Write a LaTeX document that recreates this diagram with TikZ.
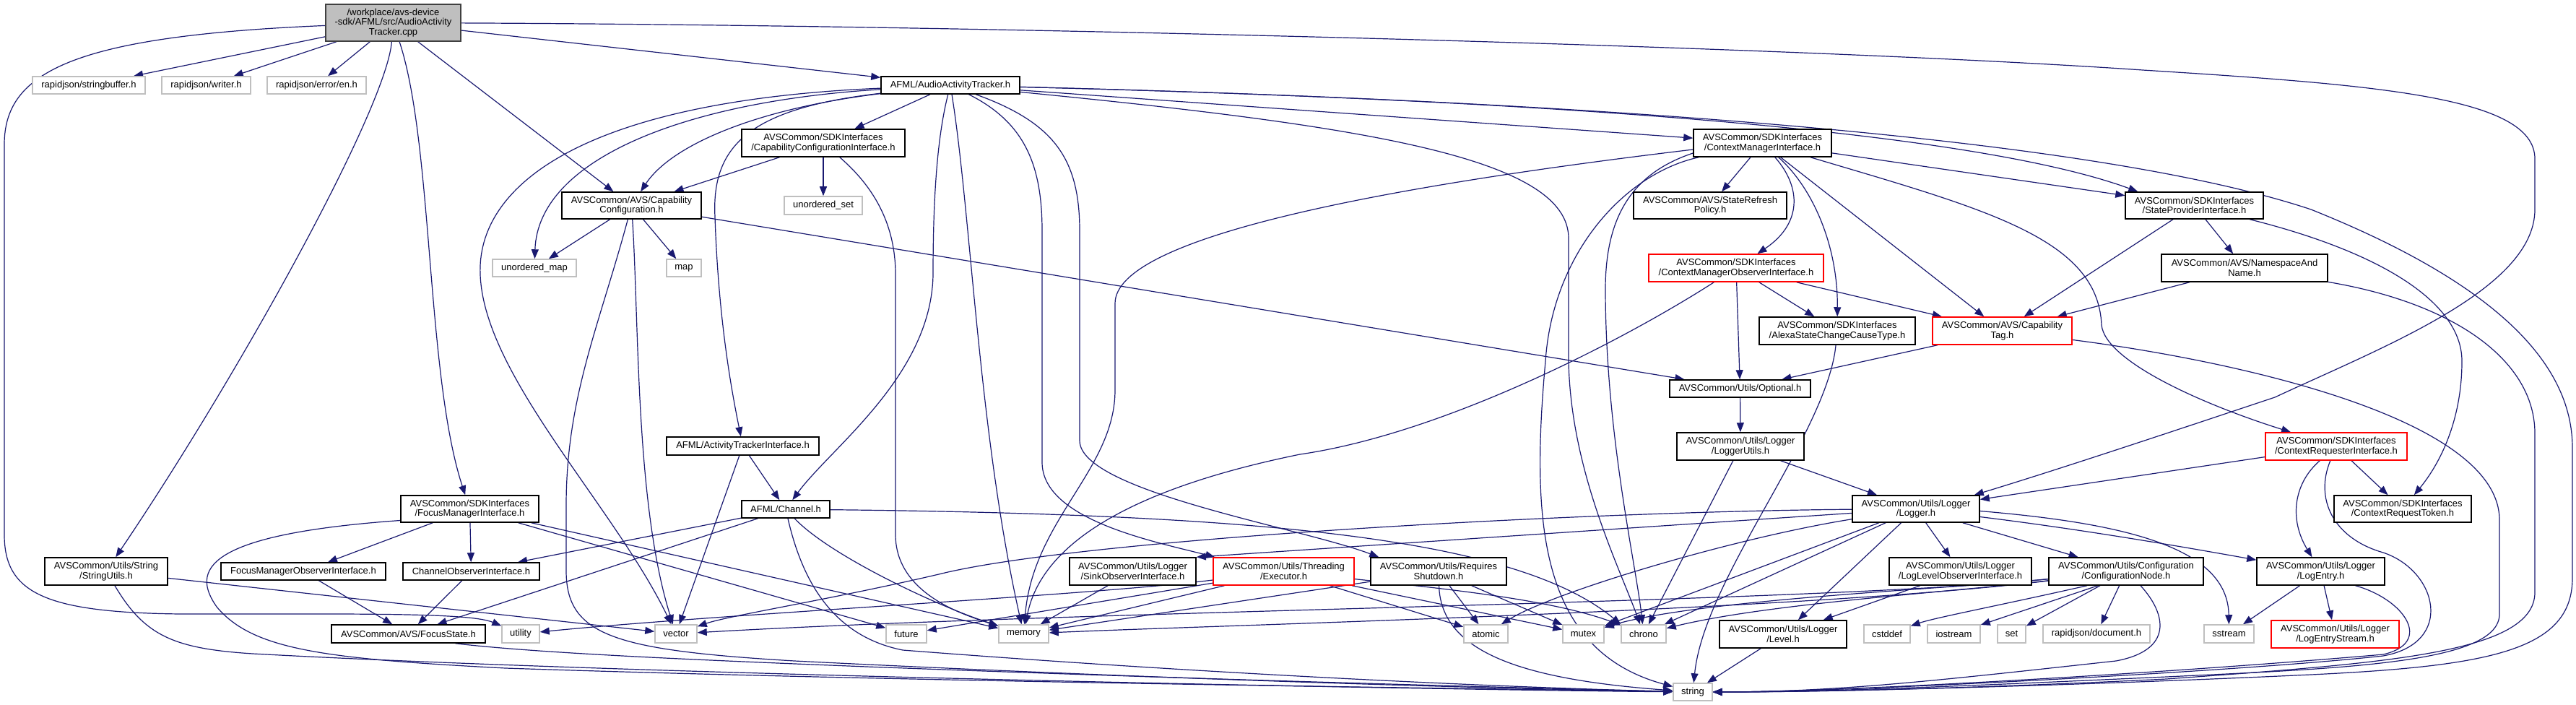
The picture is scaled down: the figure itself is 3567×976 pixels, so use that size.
\documentclass[tikz,border=0pt]{standalone}
\usepackage{fontspec}
\setmainfont{Liberation Sans}
\usetikzlibrary{arrows.meta}
\definecolor{edgeblue}{HTML}{191970}
\definecolor{sysgray}{HTML}{BFBFBF}
\definecolor{rootgray}{HTML}{BFBFBF}
\definecolor{rootborder}{HTML}{404040}
\definecolor{truncred}{HTML}{FF0000}
\pgfdeclarelayer{bg}
\pgfsetlayers{bg,main}
\newcommand{\mkn}[6]{\node[#1, minimum width=#4pt, minimum height=#5pt] (#2) at (#3) {#6};}
\tikzset{
  box/.style={draw=black, line width=1.5pt, rectangle, inner sep=0pt, align=center, fill=white,
    font=\fontsize{13pt}{13.6pt}\selectfont},
  sys/.style={box, draw=sysgray},
  trunc/.style={box, draw=truncred},
  rootbox/.style={box, fill=rootgray, draw=rootborder},
  e/.style={draw=edgeblue, line width=1.2pt, -{Triangle[length=13pt,width=10pt]}},
}
\begin{document}
\begin{tikzpicture}[x=1pt,y=-1pt]
\useasboundingbox (0,0) rectangle (3567,976);
% ---------- nodes
\mkn{rootbox}{root}{544.5,31.5}{187}{51}{/workplace/avs-device\\-sdk/AFML/src/AudioActivity\\Tracker.cpp}
\mkn{sys}{sbuf}{123,118}{156}{24}{rapidjson/stringbuffer.h}
\mkn{sys}{writer}{285.5,118}{123}{24}{rapidjson/writer.h}
\mkn{sys}{en}{438.5,118}{137}{24}{rapidjson/error/en.h}
\mkn{box}{AAT}{1316,118}{192}{24}{AFML/AudioActivityTracker.h}
\mkn{box}{CCI}{1140,198}{226}{38}{AVSCommon/SDKInterfaces\\/CapabilityConfigurationInterface.h}
\mkn{box}{CMI}{2440.5,198}{191}{38}{AVSCommon/SDKInterfaces\\/ContextManagerInterface.h}
\mkn{box}{CC}{874.5,284.5}{193}{37}{AVSCommon/AVS/Capability\\Configuration.h}
\mkn{sys}{uset}{1140,284.5}{108}{25}{unordered\_set}
\mkn{box}{SRP}{2368,284.5}{212}{37}{AVSCommon/AVS/StateRefresh\\Policy.h}
\mkn{box}{SPI}{3038.5,284.5}{191}{37}{AVSCommon/SDKInterfaces\\/StateProviderInterface.h}
\mkn{sys}{umap}{740,371}{116}{24}{unordered\_map}
\mkn{sys}{map}{947,371}{48}{24}{map}
\mkn{trunc}{CMOI}{2404,371}{242}{38}{AVSCommon/SDKInterfaces\\/ContextManagerObserverInterface.h}
\mkn{box}{NSN}{3108,371}{230}{38}{AVSCommon/AVS/NamespaceAnd\\Name.h}
\mkn{box}{ASCC}{2544,458}{216}{38}{AVSCommon/SDKInterfaces\\/AlexaStateChangeCauseType.h}
\mkn{trunc}{CapTag}{2772.5,458}{193}{38}{AVSCommon/AVS/Capability\\Tag.h}
\mkn{box}{Optional}{2409.5,538}{195}{24}{AVSCommon/Utils/Optional.h}
\mkn{box}{LU}{2410,618}{176}{38}{AVSCommon/Utils/Logger\\/LoggerUtils.h}
\mkn{box}{ATI}{1028.5,617.5}{211}{25}{AFML/ActivityTrackerInterface.h}
\mkn{trunc}{CRI}{3235,618}{196}{38}{AVSCommon/SDKInterfaces\\/ContextRequesterInterface.h}
\mkn{box}{FMI}{650.5,704.5}{191}{37}{AVSCommon/SDKInterfaces\\/FocusManagerInterface.h}
\mkn{box}{Channel}{1088,705}{122}{24}{AFML/Channel.h}
\mkn{box}{Logger}{2653,704.5}{176}{37}{AVSCommon/Utils/Logger\\/Logger.h}
\mkn{box}{CRT}{3327,704.5}{190}{37}{AVSCommon/SDKInterfaces\\/ContextRequestToken.h}
\mkn{box}{StringUtils}{147,791}{170}{38}{AVSCommon/Utils/String\\/StringUtils.h}
\mkn{box}{FMOI}{420,791}{228}{24}{FocusManagerObserverInterface.h}
\mkn{box}{COI}{652.5,791}{189}{24}{ChannelObserverInterface.h}
\mkn{box}{Sink}{1568.5,791}{175}{38}{AVSCommon/Utils/Logger\\/SinkObserverInterface.h}
\mkn{trunc}{Executor}{1777.5,791}{195}{38}{AVSCommon/Utils/Threading\\/Executor.h}
\mkn{box}{ReqShut}{1992,791}{188}{38}{AVSCommon/Utils/Requires\\Shutdown.h}
\mkn{box}{LLOI}{2714.5,791}{197}{38}{AVSCommon/Utils/Logger\\/LogLevelObserverInterface.h}
\mkn{box}{CN}{2944,791}{214}{38}{AVSCommon/Utils/Configuration\\/ConfigurationNode.h}
\mkn{box}{LogEntry}{3213.5,791}{177}{38}{AVSCommon/Utils/Logger\\/LogEntry.h}
\mkn{box}{FocusState}{565.5,877.5}{213}{25}{AVSCommon/AVS/FocusState.h}
\mkn{sys}{utility}{721,877.5}{52}{25}{utility}
\mkn{sys}{vector}{936,877.5}{58}{25}{vector}
\mkn{sys}{future}{1255,877.5}{56}{25}{future}
\mkn{sys}{memory}{1417.5,877.5}{69}{25}{memory}
\mkn{sys}{atomic}{2057.5,877.5}{61}{25}{atomic}
\mkn{sys}{mutex}{2192.5,877.5}{57}{25}{mutex}
\mkn{sys}{chrono}{2276,877.5}{62}{25}{chrono}
\mkn{box}{Level}{2469,878}{176}{38}{AVSCommon/Utils/Logger\\/Level.h}
\mkn{sys}{cstddef}{2613,877.5}{64}{25}{cstddef}
\mkn{sys}{iostream}{2705.5,877.5}{73}{25}{iostream}
\mkn{sys}{set}{2785.5,877.5}{39}{25}{set}
\mkn{sys}{document}{2903,877.5}{148}{25}{rapidjson/document.h}
\mkn{sys}{sstream}{3086.5,877.5}{69}{25}{sstream}
\mkn{trunc}{LogEntryStream}{3233.5,878}{177}{38}{AVSCommon/Utils/Logger\\/LogEntryStream.h}
\mkn{sys}{string}{2344,958}{54}{24}{string}
% ---------- edges
\begin{pgfonlayer}{bg}
% root
\draw[e] (root) .. controls (100,50) and (6,100) .. (6,200) -- (6,740) .. controls (6,820) and (60,848) .. (250,850) .. controls (500,850) and (650,848) .. (utility);
\draw[e] (root) -- (sbuf);
\draw[e] (root) -- (writer);
\draw[e] (root) -- (en);
\draw[e] (root) .. controls (535,150) and (330,520) .. (StringUtils);
\draw[e] (root) .. controls (600,200) and (590,520) .. (FMI);
\draw[e] (root) -- (CC);
\draw[e] (root) -- (AAT);
\draw[e] (root) .. controls (1400,35) and (2500,65) .. (2967,97) .. controls (3300,118) and (3510,135) .. (3510,220) -- (3510,290) .. controls (3510,400) and (3300,480) .. (3150,550) .. controls (3000,600) and (2850,650) .. ([xshift=-8pt]Logger.north east);
% AudioActivityTracker.h
\draw[e] (AAT) -- (CCI);
\draw[e] (AAT) .. controls (950,140) and (745,220) .. (umap);
\draw[e] (AAT) .. controls (1050,150) and (930,200) .. (CC);
\draw[e] (AAT) .. controls (800,140) and (660,260) .. (665,380) .. controls (670,520) and (850,700) .. (vector);
\draw[e] (AAT) .. controls (1040,150) and (985,200) .. (990,300) .. controls (995,450) and (1015,550) .. (ATI);
\draw[e] (AAT) .. controls (1295,200) and (1292,300) .. (1292,380) .. controls (1290,520) and (1150,620) .. (Channel);
\draw[e] (AAT) .. controls (1345,300) and (1355,600) .. (memory);
\draw[e] (AAT) .. controls (1420,170) and (1443,230) .. (1443,320) -- (1443,640) .. controls (1443,720) and (1600,750) .. ([xshift=3pt]Executor.north west);
\draw[e] (AAT) .. controls (1460,170) and (1495,220) .. (1495,320) -- (1495,610) .. controls (1495,680) and (1800,730) .. ([xshift=12pt]ReqShut.north west);
\draw[e] (AAT) -- (CMI);
\draw[e] (AAT) .. controls (1900,175) and (2172,220) .. (2172,330) -- (2172,500) .. controls (2175,650) and (2240,780) .. (chrono);
\draw[e] (AAT) .. controls (2000,135) and (2700,170) .. ([xshift=18pt]SPI.north west);
\draw[e] (AAT) .. controls (2200,140) and (2900,190) .. (3200,290) .. controls (3450,390) and (3562,500) .. (3562,620) -- (3562,800) .. controls (3562,900) and (3450,922) .. (3200,934) .. controls (2900,948) and (2550,958) .. (string);
% CapabilityConfigurationInterface
\draw[e] (CCI) -- (CC);
\draw[e] (CCI) -- (uset);
\draw[e] (CCI) .. controls (1200,250) and (1240,300) .. (1240,380) -- (1240,740) .. controls (1240,820) and (1330,850) .. (memory);
% CapabilityConfiguration
\draw[e] (CC) -- (umap);
\draw[e] (CC) -- (map);
\draw[e] (CC) .. controls (885,450) and (880,700) .. (vector);
\draw[e] (CC) .. controls (830,450) and (784,550) .. (784,700) -- (784,790) .. controls (784,880) and (850,900) .. (1100,915) .. controls (1600,940) and (2050,953) .. (string);
\draw[e] (CC) -- (Optional);
% ContextManagerInterface
\draw[e] (CMI) -- (SRP);
\draw[e] (CMI) .. controls (2495,260) and (2495,310) .. (CMOI);
\draw[e] (CMI) .. controls (2510,260) and (2545,340) .. (ASCC);
\draw[e] (CMI) -- (CapTag);
\draw[e] (CMI) -- (SPI);
\draw[e] (CMI) .. controls (2750,290) and (2905,330) .. (2910,450) .. controls (2915,500) and (3050,560) .. (CRI);
\draw[e] ([yshift=-9pt]CMI.west) .. controls (1900,260) and (1544,330) .. (1544,420) -- (1544,540) .. controls (1544,650) and (1430,720) .. (memory);
\draw[e] ([xshift=8pt]CMI.south west) .. controls (2250,240) and (2150,350) .. (2140,500) .. controls (2120,720) and (2130,900) .. (string);
\draw[e] ([yshift=-14pt]CMI.west) .. controls (2260,240) and (2223,300) .. (2223,400) .. controls (2223,600) and (2265,780) .. (chrono);
% ContextManagerObserverInterface
\draw[e] (CMOI) -- (ASCC);
\draw[e] (CMOI) -- (CapTag);
\draw[e] (CMOI) -- (Optional);
\draw[e] (CMOI) .. controls (2250,470) and (2000,600) .. (1800,629) .. controls (1550,680) and (1440,760) .. (memory);
% AlexaStateChangeCauseType
\draw[e] (ASCC) .. controls (2530,600) and (2360,800) .. (string);
% CapabilityTag
\draw[e] (CapTag) -- (Optional);
\draw[e] (CapTag) .. controls (3100,500) and (3461,580) .. (3461,720) -- (3461,850) .. controls (3461,918) and (3250,925) .. (3000,937) .. controls (2800,946) and (2550,958) .. (string);
% StateProviderInterface
\draw[e] (SPI) -- (CapTag);
\draw[e] (SPI) -- (NSN);
\draw[e] (SPI) .. controls (3300,350) and (3409,420) .. (3409,500) .. controls (3409,580) and (3380,640) .. (CRT);
% NamespaceAndName
\draw[e] (NSN) -- (CapTag);
\draw[e] (NSN) .. controls (3400,420) and (3510,500) .. (3510,600) -- (3510,820) .. controls (3510,905) and (3300,918) .. (3000,940) .. controls (2800,950) and (2550,958) .. (string);
% Optional, LoggerUtils
\draw[e] (Optional) -- (LU);
\draw[e] (LU) -- (Logger);
\draw[e] (LU) -- (chrono);
% ActivityTrackerInterface
\draw[e] (ATI) -- (Channel);
\draw[e] (ATI) -- (vector);
% ContextRequesterInterface
\draw[e] (CRI) -- (Logger);
\draw[e] (CRI) -- (CRT);
\draw[e] (CRI) .. controls (3175,670) and (3170,720) .. (LogEntry);
\draw[e] (CRI) .. controls (3205,690) and (3230,745) .. (3300,765) .. controls (3375,790) and (3400,890) .. (3300,908) .. controls (3100,930) and (2550,958) .. (string);
% Logger
\draw[e] (Logger) -- (LLOI);
\draw[e] (Logger) -- (CN);
\draw[e] (Logger) -- (Level);
\draw[e] ([yshift=-11pt]Logger.east) .. controls (2900,735) and (3050,762) .. (LogEntry);
\draw[e] ([yshift=-3pt]Logger.east) .. controls (2950,725) and (3085,760) .. (sstream);
\draw[e] (Logger) -- (Sink.north east);
\draw[e] (Logger) .. controls (2200,708) and (1500,745) .. (1300,795) .. controls (1150,830) and (1010,852) .. (vector);
\draw[e] (Logger) .. controls (2400,745) and (2150,820) .. (atomic);
\draw[e] (Logger) -- (mutex);
\draw[e] (Logger) -- (chrono);
% LogLevelObserverInterface, Level
\draw[e] (LLOI) -- (Level);
\draw[e] (Level) -- (string);
% ConfigurationNode
\draw[e] ([xshift=-54pt]CN.south) .. controls (2760,840) and (2680,855) .. (cstddef);
\draw[e] ([xshift=-39pt]CN.south) -- (iostream);
\draw[e] ([xshift=-36pt]CN.south) -- (set);
\draw[e] (CN) -- (document);
\draw[e] ([xshift=20pt]CN.south) .. controls (3000,850) and (3010,900) .. (2930,915) .. controls (2700,940) and (2550,958) .. (string);
\draw[e] (CN) .. controls (2700,820) and (2450,835) .. (chrono);
\draw[e] (CN) .. controls (2700,815) and (2350,830) .. (mutex);
\draw[e] (CN) .. controls (2500,835) and (1500,845) .. (vector);
\draw[e] (CN) .. controls (2500,845) and (1700,865) .. (memory);
% Executor
\draw[e] (Executor) .. controls (1500,825) and (1000,850) .. (utility);
\draw[e] (Executor) -- (future);
\draw[e] (Executor) -- (memory);
\draw[e] (Executor) -- (atomic);
\draw[e] (Executor) -- (mutex);
\draw[e] (Executor) .. controls (2000,815) and (2150,830) .. (chrono);
% RequiresShutdown
\draw[e] (ReqShut) -- (atomic);
\draw[e] (ReqShut) -- (mutex);
\draw[e] (ReqShut) -- (memory);
\draw[e] (ReqShut) .. controls (1995,900) and (2100,940) .. (string);
% SinkObserverInterface
\draw[e] (Sink) -- (memory);
% Channel
\draw[e] (Channel) -- (COI);
\draw[e] (Channel) -- (FocusState);
\draw[e] (Channel) .. controls (1750,712) and (2100,745) .. (chrono.north west);
\draw[e] (Channel) .. controls (1150,770) and (1300,840) .. (memory);
\draw[e] (Channel) .. controls (1110,800) and (1150,880) .. (1250,900) .. controls (1700,935) and (2100,952) .. (string);
% FocusManagerInterface
\draw[e] (FMI) -- (FMOI);
\draw[e] (FMI) -- (COI);
\draw[e] (FMI) -- (future);
\draw[e] (FMI) -- (memory);
\draw[e] ([yshift=-16pt]FMI.west) .. controls (280,740) and (265,790) .. (300,840) .. controls (350,900) and (450,912) .. (700,925) .. controls (1300,945) and (2050,953) .. (string);
% FocusManagerObserverInterface, ChannelObserverInterface, FocusState
\draw[e] (FMOI) -- (FocusState);
\draw[e] (COI) -- (FocusState);
\draw[e] ([xshift=65pt]FocusState.south) .. controls (750,905) and (1000,915) .. (1200,923) .. controls (1700,942) and (2100,952) .. (string);
% StringUtils
\draw[e] (StringUtils) -- (vector);
\draw[e] ([xshift=12pt]StringUtils.south) .. controls (200,880) and (240,898) .. (350,905) .. controls (900,935) and (2000,955) .. (string);
% LogEntry
\draw[e] (LogEntry) -- (sstream);
\draw[e] (LogEntry) -- (LogEntryStream);
\draw[e] ([xshift=48pt]LogEntry.south) .. controls (3330,830) and (3370,890) .. (3300,906) .. controls (3000,932) and (2550,958) .. (string);
\end{pgfonlayer}
\end{tikzpicture}
\end{document}
